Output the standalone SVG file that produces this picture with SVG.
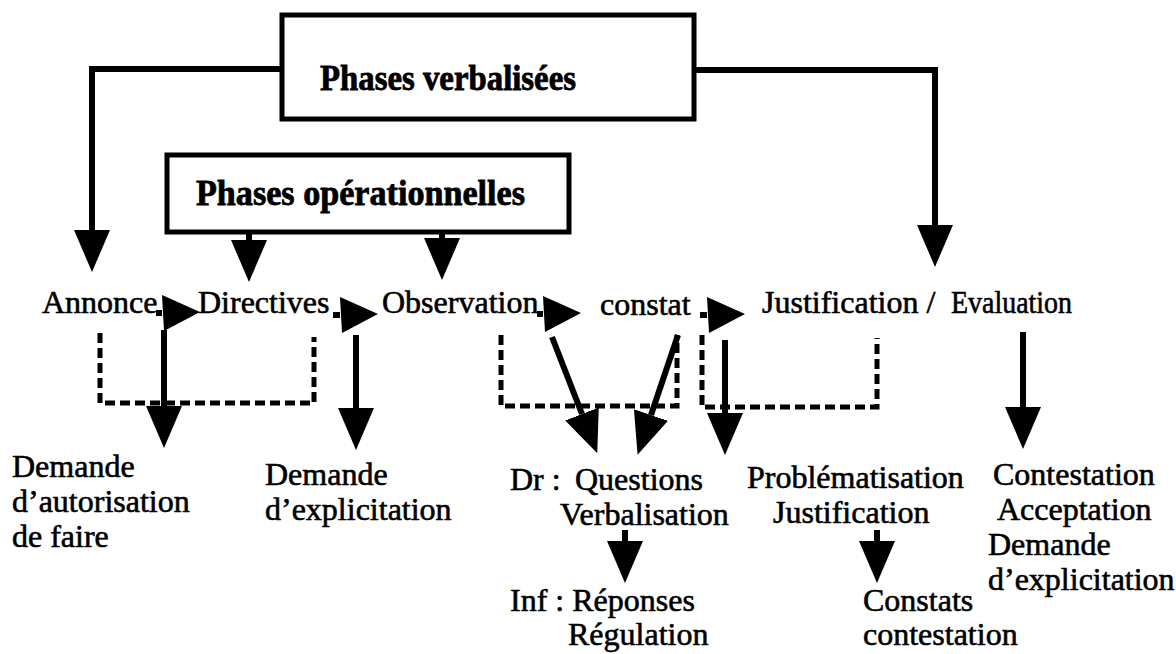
<svg xmlns="http://www.w3.org/2000/svg" width="1176" height="654" viewBox="0 0 1176 654">
<style>
text{font-family:"Liberation Serif","Times New Roman",serif;font-size:32px;fill:#000;stroke:#000;stroke-width:0.6;}
.b{font-weight:bold;font-size:36px;stroke-width:0.8;}
.box{fill:#fff;stroke:#000;stroke-width:5;}
.ln{fill:none;stroke:#000;stroke-width:6;}
.dash{fill:none;stroke:#000;stroke-width:5;stroke-dasharray:10 5;}
</style>
<defs>
<marker id="hv" markerUnits="userSpaceOnUse" markerWidth="42" markerHeight="36" refX="0" refY="18" orient="auto" viewBox="0 0 42 36">
<path d="M0,0 L42,18 L0,36 Z" fill="#000"/>
</marker>
<marker id="hh" markerUnits="userSpaceOnUse" markerWidth="38" markerHeight="36" refX="0" refY="18" orient="auto" viewBox="0 0 38 36">
<path d="M0,0 L38,17 L2,36 Z" fill="#000"/>
</marker>
</defs>
<rect width="1176" height="654" fill="#fff"/>

<g id="connectors">
<path class="ln" d="M282,69 H92 V230" marker-end="url(#hv)"/>
<path class="ln" d="M694,70 H935 V225" marker-end="url(#hv)"/>
<path class="ln" d="M249,232 V240" marker-end="url(#hv)"/>
<path class="ln" d="M442,232 V238" marker-end="url(#hv)"/>
<path class="ln" d="M156,313 H162" marker-end="url(#hh)"/>
<path class="ln" d="M333,315 H340" marker-end="url(#hh)"/>
<path class="ln" d="M537,314 H543" marker-end="url(#hh)"/>
<path class="ln" d="M700,315 H707" marker-end="url(#hh)"/>
<path class="ln" d="M164,330 V406" marker-end="url(#hv)"/>
<path class="ln" d="M356,335 V408" marker-end="url(#hv)"/>
<path class="ln" d="M552,337 L582,414" marker-end="url(#hv)"/>
<path class="ln" d="M678,335 L651,415" marker-end="url(#hv)"/>
<path class="ln" d="M725,340 V413" marker-end="url(#hv)"/>
<path class="ln" d="M1023,332 V407" marker-end="url(#hv)"/>
<path class="ln" d="M625,530 V541" marker-end="url(#hv)"/>
<path class="ln" d="M877,530 V541" marker-end="url(#hv)"/>
<path class="dash" d="M100,333 V403 H314 V337"/>
<path class="dash" d="M501,335 V406 H677 V335"/>
<path class="dash" d="M702,335 V407 H877 V338"/>
</g>

<g id="phases-verbalisees">
<rect class="box" x="282" y="15" width="412" height="104"/>
<text class="b" x="320" y="90" textLength="256" lengthAdjust="spacingAndGlyphs">Phases verbalisées</text>
</g>
<g id="phases-operationnelles">
<rect class="box" x="167" y="155" width="402" height="77"/>
<text class="b" x="196" y="205" textLength="329" lengthAdjust="spacingAndGlyphs">Phases opérationnelles</text>
</g>

<g id="annonce"><text x="42" y="313">Annonce</text></g>
<g id="directives"><text x="198" y="313">Directives</text></g>
<g id="observation"><text x="382" y="313">Observation</text></g>
<g id="constat"><text x="600" y="315">constat</text></g>
<g id="justification"><text x="762" y="313">Justification /</text></g>
<g id="evaluation"><text x="951" y="313" textLength="121" lengthAdjust="spacingAndGlyphs">Evaluation</text></g>

<g id="demande-autorisation">
<text x="12" y="477">Demande</text>
<text x="12" y="512">d’autorisation</text>
<text x="12" y="547">de faire</text>
</g>
<g id="demande-explicitation-1">
<text x="265" y="485">Demande</text>
<text x="265" y="520">d’explicitation</text>
</g>
<g id="questions">
<text x="510" y="490">Dr :<tspan x="575">Questions</tspan></text>
<text x="560" y="525">Verbalisation</text>
</g>
<g id="reponses">
<text x="510" y="611">Inf : Réponses</text>
<text x="568" y="645">Régulation</text>
</g>
<g id="problematisation">
<text x="747" y="488">Problématisation</text>
<text x="773" y="523">Justification</text>
</g>
<g id="constats">
<text x="863" y="611">Constats</text>
<text x="863" y="645">contestation</text>
</g>
<g id="contestation">
<text x="993" y="485">Contestation</text>
<text x="997" y="520">Acceptation</text>
<text x="988" y="555">Demande</text>
<text x="988" y="590">d’explicitation</text>
</g>
</svg>
